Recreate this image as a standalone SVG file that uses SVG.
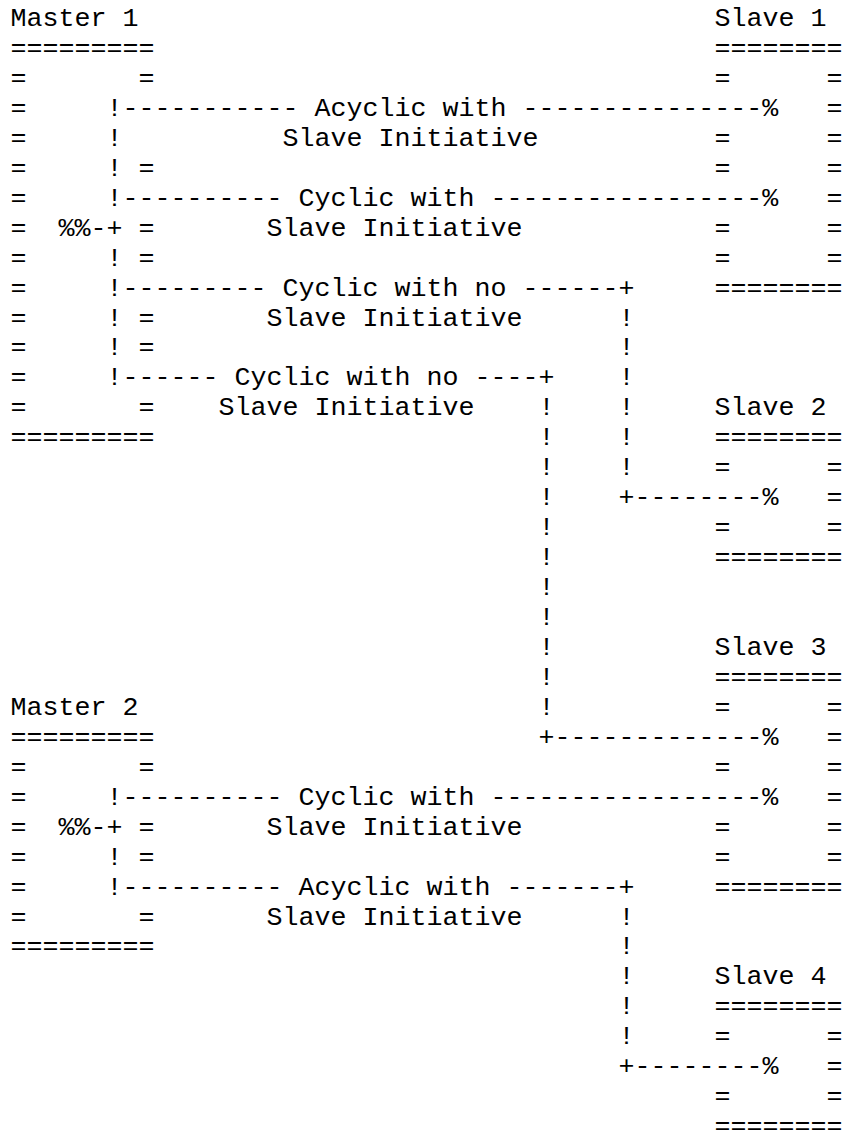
<svg xmlns="http://www.w3.org/2000/svg" width="843" height="1143" viewBox="0 0 843 1143" xml:space="preserve">
  <style>
    text { font-family: "Liberation Mono", "Courier New", monospace; font-size: 26.667px; fill: #000; white-space: pre; }
  </style>
  <rect width="843" height="1143" fill="#fff"/>

  <!-- Character grid: column c at x = 10.5 + 16c, row r at y = 26 + 29.95(r-1) -->

  <g id="master-1">
    <text x="10.5" y="26">Master 1</text>
    <text x="10.5" y="55.95">=========</text>
    <text x="10.5" y="85.9">=</text><text x="138.5" y="85.9">=</text>
    <text x="10.5" y="115.85">=</text>
    <text x="10.5" y="145.8">=</text>
    <text x="10.5" y="175.75">=</text><text x="138.5" y="175.75">=</text>
    <text x="10.5" y="205.7">=</text>
    <text x="10.5" y="235.65">=</text><text x="138.5" y="235.65">=</text>
    <text x="10.5" y="265.6">=</text><text x="138.5" y="265.6">=</text>
    <text x="10.5" y="295.55">=</text>
    <text x="10.5" y="325.5">=</text><text x="138.5" y="325.5">=</text>
    <text x="10.5" y="355.45">=</text><text x="138.5" y="355.45">=</text>
    <text x="10.5" y="385.4">=</text>
    <text x="10.5" y="415.35">=</text><text x="138.5" y="415.35">=</text>
    <text x="10.5" y="445.3">=========</text>
  </g>

  <g id="master-2">
    <text x="10.5" y="714.85">Master 2</text>
    <text x="10.5" y="744.8">=========</text>
    <text x="10.5" y="774.75">=</text><text x="138.5" y="774.75">=</text>
    <text x="10.5" y="804.7">=</text>
    <text x="10.5" y="834.65">=</text><text x="138.5" y="834.65">=</text>
    <text x="10.5" y="864.6">=</text><text x="138.5" y="864.6">=</text>
    <text x="10.5" y="894.55">=</text>
    <text x="10.5" y="924.5">=</text><text x="138.5" y="924.5">=</text>
    <text x="10.5" y="954.45">=========</text>
  </g>

  <g id="slave-1">
    <text x="714.5" y="26">Slave 1</text>
    <text x="714.5" y="55.95">========</text>
    <text x="714.5" y="85.9">=      =</text>
    <text x="826.5" y="115.85">=</text>
    <text x="714.5" y="145.8">=      =</text>
    <text x="714.5" y="175.75">=      =</text>
    <text x="826.5" y="205.7">=</text>
    <text x="714.5" y="235.65">=      =</text>
    <text x="714.5" y="265.6">=      =</text>
    <text x="714.5" y="295.55">========</text>
  </g>

  <g id="slave-2">
    <text x="714.5" y="415.35">Slave 2</text>
    <text x="714.5" y="445.3">========</text>
    <text x="714.5" y="475.25">=      =</text>
    <text x="826.5" y="505.2">=</text>
    <text x="714.5" y="535.15">=      =</text>
    <text x="714.5" y="565.1">========</text>
  </g>

  <g id="slave-3">
    <text x="714.5" y="654.95">Slave 3</text>
    <text x="714.5" y="684.9">========</text>
    <text x="714.5" y="714.85">=      =</text>
    <text x="826.5" y="744.8">=</text>
    <text x="714.5" y="774.75">=      =</text>
    <text x="826.5" y="804.7">=</text>
    <text x="714.5" y="834.65">=      =</text>
    <text x="714.5" y="864.6">=      =</text>
    <text x="714.5" y="894.55">========</text>
  </g>

  <g id="slave-4">
    <text x="714.5" y="984.4">Slave 4</text>
    <text x="714.5" y="1014.35">========</text>
    <text x="714.5" y="1044.3">=      =</text>
    <text x="826.5" y="1074.25">=</text>
    <text x="714.5" y="1104.2">=      =</text>
    <text x="714.5" y="1134.15">========</text>
  </g>

  <g id="connectors">
    <!-- Master 1 bus and its four links -->
    <text x="106.5" y="115.85">!----------- Acyclic with ---------------%</text>
    <text x="106.5" y="145.8">!</text>
    <text x="282.5" y="145.8">Slave Initiative</text>
    <text x="106.5" y="175.75">!</text>
    <text x="106.5" y="205.7">!---------- Cyclic with -----------------%</text>
    <text x="58.5" y="235.65">%%-+</text>
    <text x="266.5" y="235.65">Slave Initiative</text>
    <text x="106.5" y="265.6">!</text>
    <text x="106.5" y="295.55">!--------- Cyclic with no ------+</text>
    <text x="106.5" y="325.5">!</text>
    <text x="266.5" y="325.5">Slave Initiative</text>
    <text x="106.5" y="355.45">!</text>
    <text x="106.5" y="385.4">!------ Cyclic with no ----+</text>
    <text x="218.5" y="415.35">Slave Initiative</text>

    <!-- drop to Slave 2 -->
    <text x="618.5" y="325.5">!</text>
    <text x="618.5" y="355.45">!</text>
    <text x="618.5" y="385.4">!</text>
    <text x="618.5" y="415.35">!</text>
    <text x="618.5" y="445.3">!</text>
    <text x="618.5" y="475.25">!</text>
    <text x="618.5" y="505.2">+--------%</text>

    <!-- drop to Slave 3 -->
    <text x="538.5" y="415.35">!</text>
    <text x="538.5" y="445.3">!</text>
    <text x="538.5" y="475.25">!</text>
    <text x="538.5" y="505.2">!</text>
    <text x="538.5" y="535.15">!</text>
    <text x="538.5" y="565.1">!</text>
    <text x="538.5" y="595.05">!</text>
    <text x="538.5" y="625">!</text>
    <text x="538.5" y="654.95">!</text>
    <text x="538.5" y="684.9">!</text>
    <text x="538.5" y="714.85">!</text>
    <text x="538.5" y="744.8">+-------------%</text>

    <!-- Master 2 bus and its two links -->
    <text x="106.5" y="804.7">!---------- Cyclic with -----------------%</text>
    <text x="58.5" y="834.65">%%-+</text>
    <text x="266.5" y="834.65">Slave Initiative</text>
    <text x="106.5" y="864.6">!</text>
    <text x="106.5" y="894.55">!---------- Acyclic with -------+</text>
    <text x="266.5" y="924.5">Slave Initiative</text>

    <!-- drop to Slave 4 -->
    <text x="618.5" y="924.5">!</text>
    <text x="618.5" y="954.45">!</text>
    <text x="618.5" y="984.4">!</text>
    <text x="618.5" y="1014.35">!</text>
    <text x="618.5" y="1044.3">!</text>
    <text x="618.5" y="1074.25">+--------%</text>
  </g>
</svg>
